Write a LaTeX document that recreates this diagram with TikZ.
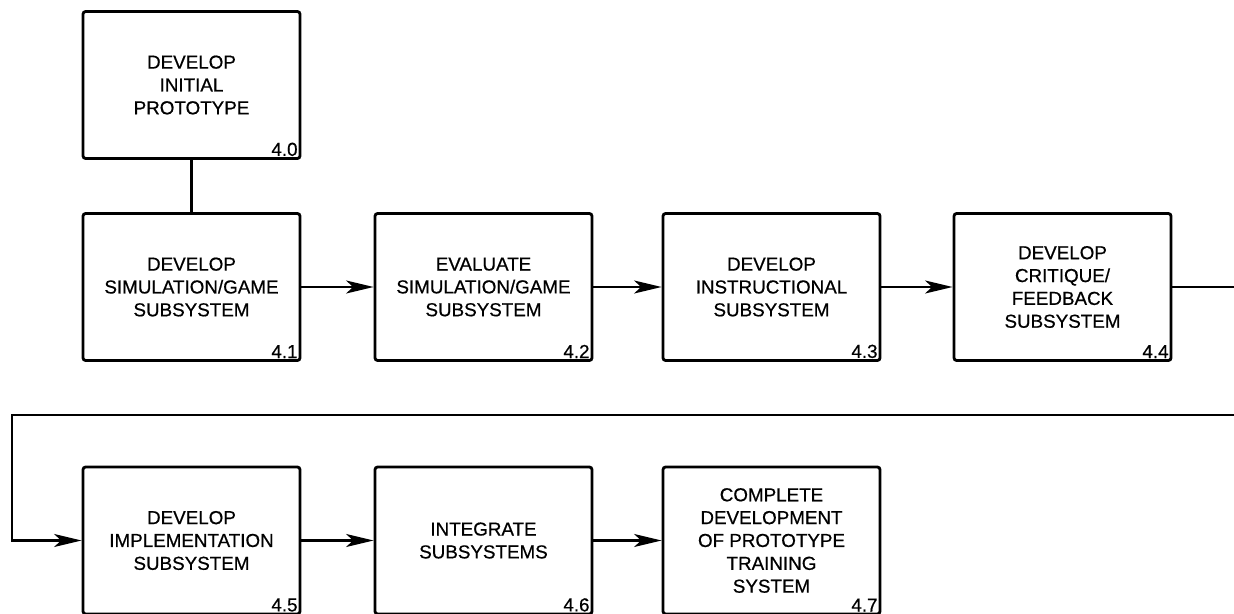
\documentclass[tikz,border=0pt]{standalone}
\usepackage{fontspec}
\setmainfont{Liberation Sans}
\usetikzlibrary{arrows.meta}

\begin{document}
\begin{tikzpicture}
      \tikzset{task/.style={draw,
          line width=1.6pt,
          rounded corners=1.5pt,
          minimum width=4.34cm,
          minimum height=2.94cm,
          align=center,
          font=\fontsize{10.7}{13}\selectfont\addfontfeature{FakeBold=0.6},
          label={[anchor=south east,inner sep=2pt,font=\fontsize{10.7}{12}\selectfont\addfontfeature{FakeBold=0.6}]south east:#1}},
        flow/.style={line width=1.2pt,
          -{Stealth[length=5.5mm,width=2.6mm,inset=1.4mm]}}
      }
      \useasboundingbox (0,0) rectangle (24.68,12.26);

      \node [task=4.0] (t40) at (3.83,10.56) {DEVELOP\\INITIAL\\PROTOTYPE};
      \node [task=4.1] (t41) at (3.83,6.52) {DEVELOP\\SIMULATION/GAME\\SUBSYSTEM};
      \node [task=4.2] (t42) at (9.67,6.52) {EVALUATE\\SIMULATION/GAME\\SUBSYSTEM};
      \node [task=4.3] (t43) at (15.43,6.52) {DEVELOP\\INSTRUCTIONAL\\SUBSYSTEM};
      \node [task=4.4] (t44) at (21.25,6.52) {DEVELOP\\CRITIQUE/\\FEEDBACK\\SUBSYSTEM};

      \node [task=4.5] (t45) at (3.83,1.45) {DEVELOP\\IMPLEMENTATION\\SUBSYSTEM};
      \node [task=4.6] (t46) at (9.67,1.45) {INTEGRATE\\SUBSYSTEMS};
      \node [task=4.7] (t47) at (15.43,1.45) {COMPLETE\\DEVELOPMENT\\OF PROTOTYPE\\TRAINING\\SYSTEM};

      \coordinate (outR) at (24.68,6.52);
      \coordinate (inR) at (24.68,3.96);
      \coordinate (inL) at (0.24,3.96);

      \draw [line width=1.2pt] (t40)--(t41);
      \draw [flow] (t41)--(t42);
      \draw [flow] (t42)--(t43);
      \draw [flow] (t43)--(t44);
      \draw [line width=1.2pt] (t44)--(outR);

      \draw [flow] (inR)--(inL)|-(t45);
      \draw [flow] (t45)--(t46);
      \draw [flow] (t46)--(t47);
\end{tikzpicture}
\end{document}
